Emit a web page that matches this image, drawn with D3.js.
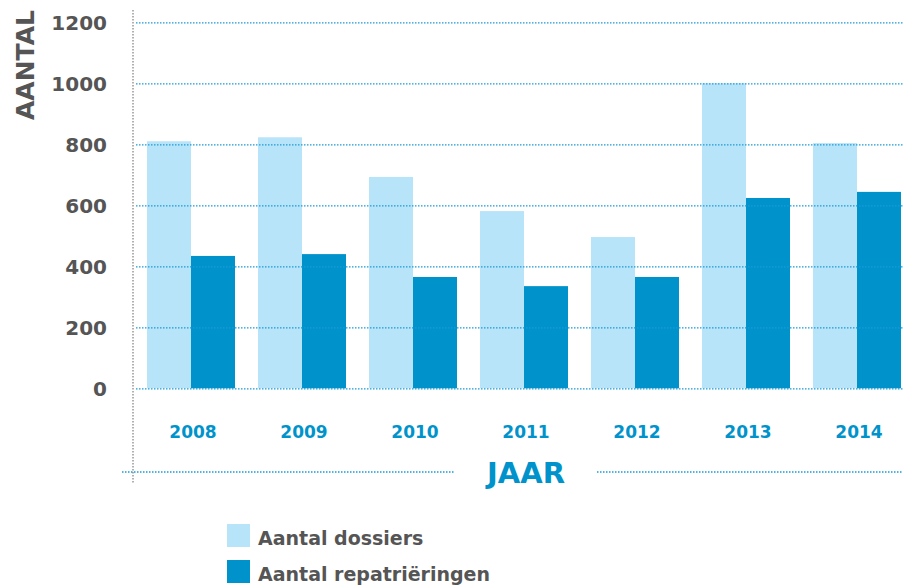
<!DOCTYPE html>
<html>
<head>
<meta charset="utf-8">
<script src="https://cdn.jsdelivr.net/npm/d3@7"></script>
<style>
  body { margin: 0; background: #fff; }
  text { font-family: "DejaVu Sans", sans-serif; font-weight: bold; }
</style>
</head>
<body>
<div id="chart-area"></div>
<script>
var years = ["2008", "2009", "2010", "2011", "2012", "2013", "2014"];
var dossiers = [810, 823, 693, 581, 496, 1000, 804];
var repatrieringen = [434, 440, 365, 335, 365, 624, 644];
var yTicks = [0, 200, 400, 600, 800, 1000, 1200];
var seriesNames = ["Aantal dossiers", "Aantal repatriëringen"];

var width = 910;
var height = 585;

var lightBlue = "#b8e4f9";
var darkBlue = "#0093cb";
var grey = "#555555";

var svg = d3.select("#chart-area").append("svg")
.attr("width", width)
.attr("height", height)

var x = d3.scaleBand()
.domain(years)
.range([135.5, 912.5])
.paddingInner(23 / 111)
.paddingOuter(11.5 / 111)

var xSub = d3.scaleBand()
.domain([0, 1])
.range([0, x.bandwidth()])

var y = d3.scaleLinear()
.domain([0, 1200])
.range([388.3, 22.3])

// Bars
var groups = svg.selectAll("g.year")
.data(years)
.enter().append("g")
.attr("class", "year")
.attr("transform", d => "translate(" + x(d) + ",0)")

groups.append("rect")
.attr("x", xSub(0))
.attr("width", xSub.bandwidth())
.attr("y", (d, i) => y(dossiers[i]))
.attr("height", (d, i) => y(0) - y(dossiers[i]))
.attr("fill", lightBlue)

groups.append("rect")
.attr("x", xSub(1))
.attr("width", xSub.bandwidth())
.attr("y", (d, i) => y(repatrieringen[i]))
.attr("height", (d, i) => y(0) - y(repatrieringen[i]))
.attr("fill", darkBlue)

// Gridlines (drawn over the bars)
var yAxis = d3.axisLeft(y)
.tickValues(yTicks)
.tickSize(-(903 - 136))
.tickFormat("")

var gridG = svg.append("g")
.attr("transform", "translate(136,0)")
.call(yAxis)
gridG.select(".domain").remove()
gridG.selectAll(".tick line")
.attr("stroke", "#1a9ad6")
.attr("stroke-width", 1.3)
.attr("stroke-dasharray", "1.5,1.5")

// Y tick labels
svg.selectAll("text.ytick")
.data(yTicks)
.enter().append("text")
.attr("class", "ytick")
.attr("x", 107)
.attr("y", d => y(d))
.attr("dy", "0.36em")
.attr("text-anchor", "end")
.attr("font-size", "20px")
.attr("fill", grey)
.text(d => d)

// Vertical dotted axis line
svg.append("line")
.attr("x1", 133).attr("x2", 133)
.attr("y1", 10).attr("y2", 483)
.attr("stroke", "#888")
.attr("stroke-width", 1.3)
.attr("stroke-dasharray", "1.5,1.5")

// Bottom dotted line, broken by the JAAR label
svg.append("line")
.attr("x1", 122).attr("x2", 454)
.attr("y1", 472).attr("y2", 472)
.attr("stroke", "#1a9ad6")
.attr("stroke-width", 1.3)
.attr("stroke-dasharray", "1.5,1.5")
svg.append("line")
.attr("x1", 597).attr("x2", 903)
.attr("y1", 472).attr("y2", 472)
.attr("stroke", "#1a9ad6")
.attr("stroke-width", 1.3)
.attr("stroke-dasharray", "1.5,1.5")

// Year labels
svg.selectAll("text.year")
.data(years)
.enter().append("text")
.attr("class", "year")
.attr("x", d => x(d) + x.bandwidth() / 2 + 2)
.attr("y", 438)
.attr("text-anchor", "middle")
.attr("font-size", "17px")
.attr("fill", darkBlue)
.text(d => d)

// Axis titles
svg.append("text")
.attr("x", 526)
.attr("y", 483)
.attr("text-anchor", "middle")
.attr("font-size", "29px")
.attr("fill", darkBlue)
.text("JAAR")

svg.append("text")
.attr("transform", "translate(33.5,65) rotate(-90)")
.attr("text-anchor", "middle")
.attr("font-size", "25px")
.attr("fill", grey)
.text("AANTAL")

// Legend
var legend = svg.append("g")
.attr("transform", "translate(227,524)")

seriesNames.forEach((name, i) => {
	var row = legend.append("g")
	.attr("transform", "translate(0," + (i * 36) + ")")

	row.append("rect")
	.attr("width", 23)
	.attr("height", 23)
	.attr("fill", i === 0 ? lightBlue : darkBlue)

	row.append("text")
	.attr("x", 31)
	.attr("y", 21)
	.attr("font-size", "19px")
	.attr("fill", grey)
	.text(name)
})
</script>
</body>
</html>
